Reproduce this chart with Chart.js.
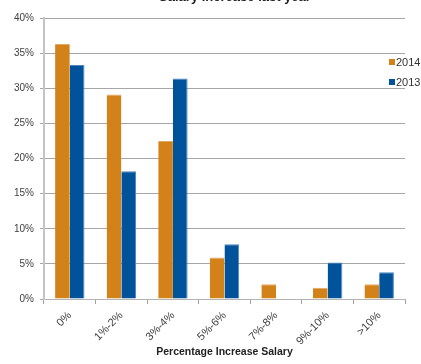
<!DOCTYPE html>
<html>
<head>
<meta charset="utf-8">
<script src="https://cdn.jsdelivr.net/npm/chart.js@4.4.1/dist/chart.umd.min.js"></script>
<style>
  html, body { margin: 0; padding: 0; background: #ffffff; }
  #wrap { width: 421px; height: 364px; position: relative; }
</style>
</head>
<body>
<div id="wrap"><canvas id="chart"></canvas></div>
<script>
// Salary increase distribution, share of respondents per band
const categories = ['0%', '1%-2%', '3%-4%', '5%-6%', '7%-8%', '9%-10%', '>10%'];
const values2014 = [36.3, 29.1, 22.5, 5.9, 2.1, 1.6, 2.1];
const values2013 = [33.3, 18.2, 31.4, 7.8, 0, 5.2, 3.8];
const seriesNames = ['2014', '2013'];
const yTicks = [0, 5, 10, 15, 20, 25, 30, 35, 40];
const chartTitle = 'Salary Increase last year';
const xAxisTitle = 'Percentage Increase Salary';

const ORANGE = '#D3821A';
const BLUE = '#00529B';
const FONT = 'Liberation Sans, Arial, sans-serif';

// Legend at the right of the plot and the heading running off the top edge
const overlayPlugin = {
  id: 'overlay',
  afterDraw(chart) {
    const ctx = chart.ctx;
    ctx.save();
    ctx.font = 'bold 13px ' + FONT;
    ctx.fillStyle = '#222222';
    ctx.textAlign = 'center';
    ctx.textBaseline = 'alphabetic';
    ctx.fillText(chartTitle, 235, 1);

    ctx.font = '11px ' + FONT;
    ctx.textAlign = 'left';
    ctx.textBaseline = 'middle';
    const colors = [ORANGE, BLUE];
    const rows = [62, 82];
    seriesNames.forEach((name, i) => {
      ctx.fillStyle = colors[i];
      ctx.fillRect(389, rows[i] - 3, 6, 6);
      ctx.fillStyle = '#333333';
      ctx.fillText(name, 396, rows[i] + 0.5);
    });
    ctx.restore();
  }
};

new Chart(document.getElementById('chart'), {
  type: 'bar',
  data: {
    labels: categories,
    datasets: [
      {
        label: seriesNames[0],
        data: values2014,
        backgroundColor: ORANGE,
        borderColor: '#E4A660',
        borderWidth: { top: 1, right: 0, left: 0, bottom: 0 }
      },
      {
        label: seriesNames[1],
        data: values2013,
        backgroundColor: BLUE,
        borderColor: '#4D86C0',
        borderWidth: { top: 1, right: 1, left: 0, bottom: 0 }
      }
    ]
  },
  options: {
    responsive: true,
    maintainAspectRatio: false,
    animation: false,
    layout: { padding: { top: 18, right: 16, left: 0, bottom: 0 } },
    datasets: {
      bar: { categoryPercentage: 0.57, barPercentage: 1.0 }
    },
    plugins: {
      legend: { display: false },
      title: { display: false },
      tooltip: { enabled: false }
    },
    scales: {
      x: {
        afterFit(scale) { scale.height = 65; },
        grid: {
          display: true,
          offset: true,
          drawOnChartArea: false,
          drawTicks: true,
          tickLength: 5,
          color: '#A0A0A0'
        },
        border: { display: true, color: '#B4B4B4', width: 1 },
        ticks: {
          color: '#404040',
          font: { family: FONT, size: 11 },
          minRotation: 45,
          maxRotation: 45,
          padding: 5
        },
        title: {
          display: true,
          text: xAxisTitle,
          color: '#222222',
          font: { family: FONT, size: 10.5, weight: 'bold' },
          padding: { top: 0, bottom: 6 }
        }
      },
      y: {
        min: 0,
        max: 40,
        afterFit(scale) { scale.width = 44; },
        afterBuildTicks(scale) {
          scale.ticks = yTicks.map(v => ({ value: v }));
        },
        grid: {
          color: '#A6A6A6',
          lineWidth: 1,
          drawTicks: true,
          tickLength: 4
        },
        border: { display: true, color: '#C4C4C4', width: 2 },
        ticks: {
          color: '#404040',
          font: { family: FONT, size: 10 },
          padding: 6,
          callback: v => v + '%'
        }
      }
    }
  },
  plugins: [overlayPlugin]
});
</script>
</body>
</html>
